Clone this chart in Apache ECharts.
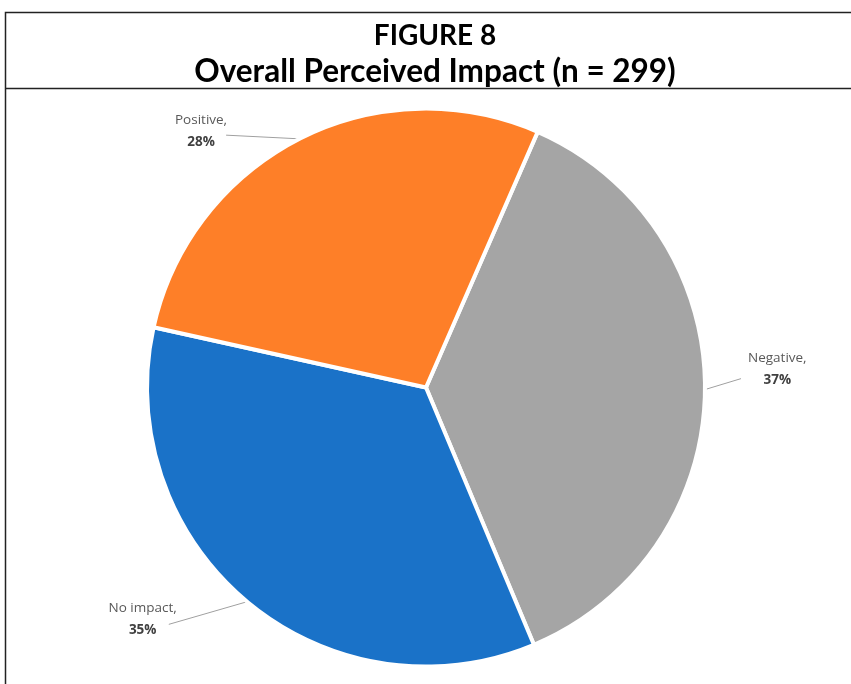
<!DOCTYPE html>
<html><head><meta charset="utf-8">
<script src="https://cdn.jsdelivr.net/npm/echarts@6/dist/echarts.min.js"></script>
<style>html,body{margin:0;padding:0;background:#fff}#c{width:851px;height:684px}</style>
</head><body><div id="c"></div>
<script>
const categories = ['Negative', 'No impact', 'Positive'];
const counts = [111, 104, 84];
const percentLabels = ['37%', '35%', '28%'];
const colors = ['#A5A5A5', '#1A72C8', '#FE7F28'];
const titleLine1 = 'FIGURE 8';
const titleLine2 = 'Overall Perceived Impact (n = 299)';

const chart = echarts.init(document.getElementById('c'), null, {renderer: 'canvas'});
const lineCfg = [
  {length: 10, length2: 22},
  {length: 10, length2: 50},
  {length: 3, length2: 68}
];
// label offsets and where the guide line meets each label (relative to its box)
const labelShift = [
  {dx: 6, dy: -20, side: 'left', ox: -7, oy: 9},
  {dx: -9, dy: 10, side: 'right', ox: -8, oy: 5},
  {dx: 2, dy: -5, side: 'right', ox: -1, oy: 4}
];
chart.setOption({
  animation: false,
  graphic: [
    {type: 'rect', shape: {x: 5.5, y: 12.5, width: 1000, height: 1000}, style: {fill: 'none', stroke: '#222', lineWidth: 1.5}, z: 10},
    {type: 'line', shape: {x1: 5, y1: 88.5, x2: 851, y2: 88.5}, style: {stroke: '#222', lineWidth: 1.5}, z: 10},
    {type: 'text', x: 435, y: 22, style: {text: titleLine1, font: 'bold 28px Lato', fill: '#000', align: 'center'}},
    {type: 'text', x: 435, y: 56, style: {text: titleLine2, font: 'bold 31.5px Lato', fill: '#000', align: 'center'}}
  ],
  series: [{
    type: 'pie',
    center: [426, 387.5],
    radius: 279,
    startAngle: 66.4,
    clockwise: true,
    avoidLabelOverlap: false,
    itemStyle: {borderColor: '#fff', borderWidth: 4},
    label: {
      show: true,
      position: 'outside',
      formatter: p => '{a|' + p.name + ',}\n{b|' + percentLabels[p.dataIndex] + '}',
      align: 'center',
      rich: {
        a: {fontFamily: 'Open Sans', fontSize: 13.5, color: '#595959', lineHeight: 22, align: 'center'},
        b: {fontFamily: 'Open Sans', fontSize: 13.5, fontWeight: 'bold', color: '#404040', lineHeight: 22, align: 'center'}
      }
    },
    labelLayout: p => {
      const s = labelShift[p.dataIndex];
      const r = p.labelRect;
      const x = r.x + s.dx, y = r.y + s.dy;
      const ex = (s.side === 'left' ? x : x + r.width) + s.ox;
      const ey = y + r.height / 2 + s.oy;
      const start = p.labelLinePoints ? p.labelLinePoints[0] : [ex, ey];
      return {dx: s.dx, dy: s.dy, labelLinePoints: [start, [ex, ey]]};
    },
    labelLine: {show: true, lineStyle: {color: '#A0A0A0', width: 1}, smooth: false},
    data: categories.map((c, i) => ({
      name: c, value: counts[i],
      itemStyle: {color: colors[i]},
      labelLine: lineCfg[i]
    }))
  }]
});
</script></body></html>
